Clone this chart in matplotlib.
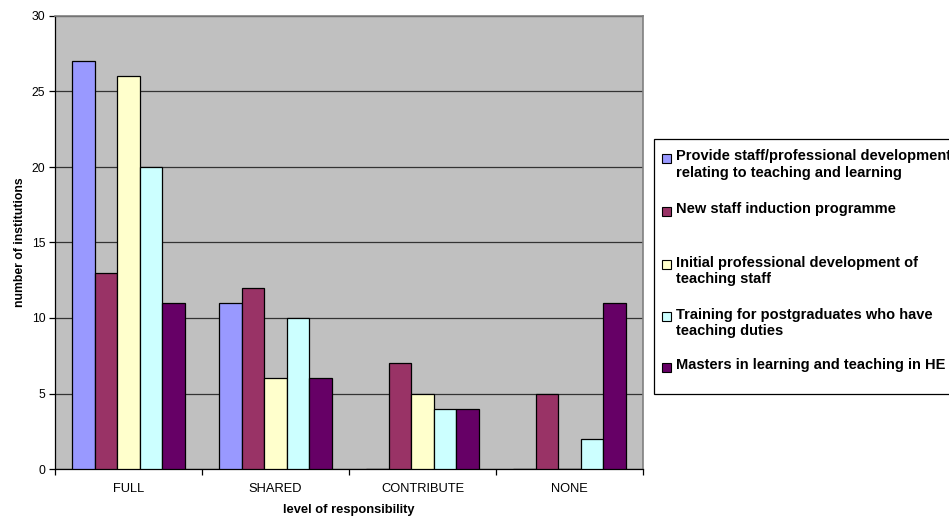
import matplotlib
matplotlib.use("Agg")
import matplotlib.pyplot as plt
import numpy as np
from matplotlib.patches import Rectangle

plt.rcParams['font.family'] = ['Liberation Sans', 'DejaVu Sans']

categories = ["FULL", "SHARED", "CONTRIBUTE", "NONE"]
series_names = [
    "Provide staff/professional development\nrelating to teaching and learning",
    "New staff induction programme",
    "Initial professional development of\nteaching staff",
    "Training for postgraduates who have\nteaching duties",
    "Masters in learning and teaching in HE",
]
provide_staff_dev = [27, 11, 0, 0]
new_staff_induction = [13, 12, 7, 5]
initial_prof_dev = [26, 6, 5, 0]
postgrad_training = [20, 10, 4, 2]
masters_learning = [11, 6, 4, 11]
series_values = [provide_staff_dev, new_staff_induction, initial_prof_dev,
                 postgrad_training, masters_learning]
colors = ["#9999FF", "#993366", "#FFFFCC", "#CCFFFF", "#660066"]

W, H = 949, 518
fig = plt.figure(figsize=(W / 100, H / 100), dpi=100)
left, right, top, bottom = 55, 643, 16, 469
ax = fig.add_axes([left / W, 1 - bottom / H, (right - left) / W, (bottom - top) / H])
ax.set_facecolor("#C0C0C0")

n = len(series_values)
bar_w = 1 / (n + 1.5)
x = np.arange(len(categories))
for i, (vals, c) in enumerate(zip(series_values, colors)):
    ax.bar(x + (i - (n - 1) / 2) * bar_w, vals, width=bar_w, color=c,
           edgecolor="black", linewidth=0.9, zorder=3)

ax.set_xlim(-0.5, len(categories) - 0.5)
ax.set_ylim(0, 30)
ax.set_yticks(np.arange(0, 31, 5))
ax.yaxis.grid(True, color="#333333", linewidth=0.9, zorder=1)
ax.set_axisbelow(True)

# category ticks sit at group boundaries, labels at group centres
ax.set_xticks(np.arange(-0.5, len(categories), 1))
ax.set_xticklabels([])
ax.set_xticks(x, minor=True)
ax.set_xticklabels(categories, minor=True)
ax.tick_params(axis="x", which="major", direction="out", length=4, width=0.9, color="black")
ax.tick_params(axis="x", which="minor", length=0, pad=10, labelsize=9.3)
ax.tick_params(axis="y", direction="out", length=4, width=0.9, labelsize=8.8, pad=3)

for s in ("top", "right"):
    ax.spines[s].set_color("#808080")
    ax.spines[s].set_linewidth(1.2)
for s in ("left", "bottom"):
    ax.spines[s].set_color("black")
    ax.spines[s].set_linewidth(0.9)

ax.set_xlabel("level of responsibility", fontsize=9.3, fontweight="bold")
ax.xaxis.set_label_coords(0.5, -(510 - bottom) / (bottom - top), transform=ax.transAxes)
ax.xaxis.label.set_va("center")
ax.set_ylabel("number of institutions", fontsize=8.8, fontweight="bold")
ax.yaxis.set_label_coords(-(left - 20) / (right - left), 0.5, transform=ax.transAxes)
ax.yaxis.label.set_va("center")

# legend box, extending past the right edge of the figure
lx0, ly0, ly1 = 654, 139, 394
fig.add_artist(Rectangle((lx0 / W, 1 - ly1 / H), (W + 20 - lx0) / W, (ly1 - ly0) / H,
                         transform=fig.transFigure, facecolor="white",
                         edgecolor="black", linewidth=0.9, clip_on=False))
item_y = [158, 211, 264, 316, 367]
for name, c, yy in zip(series_names, colors, item_y):
    fig.add_artist(Rectangle((662 / W, 1 - (yy + 5) / H), 9 / W, 9 / H,
                             transform=fig.transFigure, facecolor=c,
                             edgecolor="black", linewidth=0.8))
    fig.text(676 / W, 1 - (yy - 8.5) / H, name, fontsize=10.5, fontweight="bold",
             va="top", ha="left", linespacing=1.25)

fig.savefig("out.png", dpi=100, facecolor="white")
